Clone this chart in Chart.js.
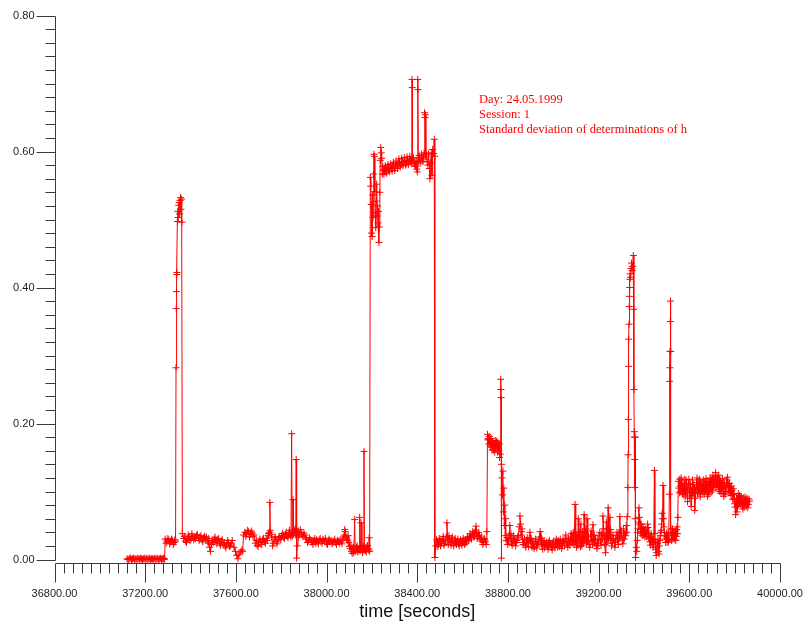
<!DOCTYPE html>
<html>
<head>
<meta charset="utf-8">
<script src="https://cdn.jsdelivr.net/npm/chart.js@4/dist/chart.umd.min.js"></script>
<style>
  html, body { margin: 0; padding: 0; background: #ffffff; }
  #wrap { width: 806px; height: 628px; position: relative; }
</style>
</head>
<body>
<div id="wrap"><canvas id="chart" width="806" height="628"></canvas></div>
<script>
// Standard deviation of h, [time (s), sigma] per epoch, grouped by observing phase
const idleZeros = [
  [37120,0.001],[37124,0.000],[37128,0.000],[37132,0.002],[37136,0.002],[37140,0.000],[37144,0.001],
  [37148,0.002],[37152,0.000],[37156,0.001],[37160,0.001],[37164,0.000],[37168,0.002],[37172,0.001],
  [37176,0.000],[37180,0.002],[37184,0.001],[37188,0.000],[37192,0.001],[37196,0.002],[37200,0.000],
  [37204,0.001],[37208,0.002],[37212,0.000],[37216,0.001],[37220,0.002],[37224,0.000],[37228,0.001],
  [37232,0.001],[37236,0.000],[37240,0.002],[37244,0.001],[37248,0.000],[37252,0.002],[37256,0.001],
  [37260,0.000],[37264,0.001],[37268,0.002],[37272,0.000],[37276,0.001],[37280,0.002],[37283,0.000],
  [37286,0.001]
];
const firstBurst = [
  [37288,0.030],[37292,0.024],[37296,0.027],[37300,0.031],[37304,0.029],[37308,0.023],[37312,0.026],
  [37316,0.030],[37320,0.028],[37324,0.022],[37328,0.025],[37331,0.029],[37334,0.027],
  [37336,0.282],[37337,0.369],[37338,0.394],[37339,0.419],[37340,0.422],[37342,0.497],[37344,0.512],
  [37346,0.503],[37348,0.521],[37350,0.525],[37352,0.508],[37354,0.528],[37356,0.532],[37358,0.515],
  [37360,0.530],[37362,0.496]
];
const quietA = [
  [37364,0.038],[37370,0.031],[37378,0.027],[37386,0.029],[37394,0.033],[37402,0.030],[37410,0.034],
  [37418,0.032],[37426,0.035],[37434,0.031],[37442,0.033],[37450,0.029],[37458,0.032],[37466,0.030],
  [37474,0.027],[37480,0.031],[37484,0.018],[37488,0.012],[37492,0.022],[37496,0.028],[37504,0.030],
  [37512,0.026],[37520,0.029],[37528,0.024],[37536,0.027],[37544,0.022],[37552,0.020],[37560,0.023],
  [37568,0.025],[37576,0.021],[37584,0.028],[37592,0.018],[37598,0.012],[37604,0.006],[37609,0.001],
  [37614,0.008],[37620,0.011],[37626,0.014],[37630,0.012],[37634,0.036],[37640,0.040],[37648,0.038],
  [37656,0.041],[37664,0.037],[37672,0.039],[37680,0.036],[37686,0.024],[37694,0.021],[37702,0.027],
  [37710,0.025],[37718,0.029],[37726,0.026],[37734,0.031],[37742,0.035],[37748,0.040],[37750,0.084],
  [37752,0.043],[37758,0.033],[37764,0.024],[37770,0.030],[37778,0.026],[37786,0.029],[37794,0.032],
  [37802,0.035],[37810,0.033],[37818,0.037],[37826,0.034],[37834,0.039],[37840,0.036],[37846,0.185],
  [37848,0.040],[37852,0.088],[37854,0.038],[37857,0.043],[37860,0.041],[37864,0.036],[37866,0.147],
  [37868,0.002],[37870,0.020],[37874,0.042],[37880,0.037],[37888,0.040],[37896,0.034],[37904,0.036],
  [37912,0.030],[37920,0.027],[37928,0.029],[37936,0.025],[37944,0.028],[37952,0.024],[37960,0.027],
  [37968,0.029],[37976,0.026],[37984,0.030],[37992,0.027],[38000,0.024],[38008,0.028],[38016,0.026],
  [38024,0.023],[38032,0.027],[38040,0.025],[38048,0.028],[38056,0.024],[38064,0.026],[38072,0.030],
  [38078,0.036],[38082,0.041],[38086,0.033],[38092,0.028],[38098,0.025],[38104,0.016],[38110,0.012],
  [38116,0.015],[38120,0.010],[38124,0.059],[38126,0.014],[38132,0.018],[38138,0.011],[38144,0.016],
  [38146,0.062],[38148,0.013],[38152,0.054],[38156,0.017],[38160,0.012],[38165,0.159],[38167,0.015],
  [38172,0.013],[38178,0.019],[38184,0.016],[38188,0.032],[38190,0.012]
];
const quietAExtra = [
  [37374,0.034],[37382,0.025],[37390,0.036],[37398,0.028],[37406,0.038],[37414,0.029],[37422,0.031],
  [37430,0.037],[37438,0.028],[37446,0.035],[37454,0.026],[37462,0.034],[37470,0.033],[37478,0.024],
  [37500,0.025],[37508,0.033],[37516,0.023],[37524,0.031],[37532,0.021],[37540,0.029],[37548,0.025],
  [37556,0.017],[37564,0.028],[37572,0.019],[37580,0.024],[37644,0.034],[37652,0.043],[37660,0.033],
  [37668,0.042],[37676,0.034],[37690,0.028],[37698,0.019],[37706,0.030],[37714,0.022],[37722,0.031],
  [37730,0.024],[37738,0.028],[37744,0.038],[37756,0.037],[37762,0.020],[37774,0.033],[37782,0.023],
  [37790,0.034],[37798,0.029],[37806,0.038],[37814,0.031],[37822,0.040],[37830,0.032],[37836,0.043],
  [37843,0.033],[37850,0.035],[37862,0.045],[37877,0.033],[37884,0.044],[37892,0.036],[37900,0.039],
  [37908,0.032],[37916,0.025],[37924,0.032],[37932,0.028],[37940,0.022],[37948,0.031],[37956,0.029],
  [37964,0.023],[37972,0.031],[37980,0.024],[37988,0.028],[37996,0.031],[38004,0.022],[38012,0.030],
  [38020,0.028],[38028,0.025],[38036,0.030],[38044,0.022],[38052,0.027],[38060,0.029],[38068,0.023],
  [38076,0.033],[38080,0.044],[38089,0.030],[38095,0.035],[38101,0.019],[38107,0.021],[38113,0.009],
  [38118,0.018],[38129,0.012],[38135,0.020],[38141,0.014],[38150,0.019],[38158,0.010],[38162,0.020],
  [38170,0.017],[38175,0.011],[38181,0.021],[38186,0.014]
];
const plateau = [
  [38193,0.562],[38195,0.549],[38197,0.522],[38199,0.480],[38201,0.475],[38203,0.536],[38205,0.503],
  [38207,0.567],[38209,0.596],[38211,0.593],[38213,0.541],[38215,0.510],[38217,0.488],[38219,0.527],
  [38221,0.552],[38223,0.505],[38225,0.520],[38227,0.495],[38229,0.512],[38231,0.466],[38233,0.489],
  [38235,0.540],[38237,0.587],[38239,0.606],[38241,0.598],[38243,0.590],[38246,0.567],[38250,0.572],
  [38256,0.574],[38262,0.570],[38268,0.576],[38274,0.573],[38280,0.577],[38286,0.575],[38292,0.579],
  [38298,0.576],[38304,0.580],[38310,0.582],[38316,0.579],[38322,0.584],[38328,0.581],[38334,0.585],
  [38340,0.583],[38346,0.586],[38352,0.582],[38358,0.587],[38364,0.585],[38370,0.588],[38376,0.586],
  [38377,0.706],[38378,0.694],[38380,0.589],[38386,0.584],[38392,0.578],[38398,0.574],[38402,0.706],
  [38403,0.691],[38405,0.586],[38410,0.590],[38416,0.587],[38422,0.592],[38428,0.589],[38432,0.657],
  [38434,0.650],[38436,0.654],[38438,0.592],[38444,0.585],[38450,0.597],[38454,0.575],[38456,0.560],
  [38458,0.583],[38462,0.598],[38465,0.565],[38468,0.603],[38472,0.597],[38475,0.618],[38477,0.593]
];
const plateauExtra = [
  [38248,0.578],[38253,0.566],[38259,0.579],[38265,0.568],[38271,0.581],[38277,0.570],[38283,0.582],
  [38289,0.571],[38295,0.584],[38301,0.572],[38307,0.586],[38313,0.575],[38319,0.589],[38325,0.577],
  [38331,0.590],[38337,0.579],[38343,0.591],[38349,0.580],[38355,0.592],[38361,0.581],[38367,0.593],
  [38373,0.582],[38383,0.591],[38389,0.580],[38395,0.586],[38400,0.570],[38408,0.594],[38413,0.583],
  [38419,0.596],[38425,0.585],[38430,0.598],[38441,0.595],[38447,0.580]
];
const quietB = [
  [38478,0.003],[38482,0.020],[38488,0.026],[38494,0.022],[38500,0.028],[38506,0.024],[38512,0.030],
  [38518,0.021],[38524,0.027],[38528,0.033],[38531,0.054],[38534,0.029],[38540,0.035],[38546,0.026],
  [38552,0.031],[38558,0.024],[38564,0.028],[38570,0.025],[38576,0.027],[38582,0.023],[38588,0.026],
  [38594,0.024],[38600,0.028],[38606,0.025],[38612,0.029],[38618,0.027],[38624,0.031],[38630,0.034],
  [38636,0.032],[38642,0.037],[38648,0.035],[38654,0.040],[38659,0.049],[38662,0.038],[38668,0.034],
  [38674,0.036],[38680,0.031],[38686,0.027],[38692,0.025],[38698,0.029],[38704,0.022],[38707,0.041],
  [38710,0.184],[38713,0.178],[38716,0.170],[38720,0.176],[38724,0.165],[38728,0.172],[38732,0.168],
  [38736,0.161],[38740,0.167],[38744,0.175],[38748,0.169],[38752,0.164],[38756,0.172],[38760,0.160],
  [38763,0.150],[38766,0.155],[38768,0.265],[38769,0.250],[38770,0.238],[38771,0.002],[38772,0.140],
  [38774,0.120],[38776,0.095],[38778,0.130],[38780,0.070],[38782,0.105],[38784,0.050],[38786,0.080],
  [38788,0.035],[38790,0.060],[38792,0.028]
];
const quietBExtra = [
  [38485,0.029],[38491,0.019],[38497,0.031],[38503,0.020],[38509,0.027],[38515,0.034],[38521,0.024],
  [38537,0.022],[38543,0.030],[38549,0.021],[38555,0.033],[38561,0.020],[38567,0.031],[38573,0.022],
  [38579,0.030],[38585,0.020],[38591,0.029],[38597,0.021],[38603,0.031],[38609,0.022],[38615,0.024],
  [38621,0.033],[38627,0.028],[38633,0.038],[38639,0.030],[38645,0.041],[38651,0.033],[38657,0.043],
  [38665,0.031],[38671,0.040],[38677,0.029],[38683,0.033],[38689,0.022],[38695,0.031],[38701,0.026],
  [38711,0.176],[38718,0.181],[38722,0.168],[38726,0.178],[38730,0.161],[38734,0.173],[38738,0.170],
  [38742,0.158],[38746,0.164],[38750,0.174],[38754,0.158],[38758,0.166],[38762,0.170]
];
const quietC = [
  [38796,0.032],[38802,0.027],[38808,0.050],[38810,0.030],[38816,0.024],[38822,0.031],[38828,0.026],
  [38834,0.020],[38840,0.028],[38846,0.035],[38850,0.048],[38853,0.064],[38856,0.052],[38860,0.041],
  [38864,0.030],[38870,0.025],[38876,0.021],[38882,0.028],[38888,0.024],[38894,0.031],[38897,0.040],
  [38900,0.026],[38906,0.018],[38912,0.023],[38918,0.019],[38924,0.026],[38930,0.022],[38936,0.029],
  [38942,0.041],[38945,0.027],[38950,0.020],[38956,0.024],[38962,0.017],[38968,0.022],[38974,0.019],
  [38980,0.025],[38986,0.021],[38992,0.018],[38998,0.024],[39004,0.020],[39010,0.026],[39016,0.022],
  [39022,0.028],[39028,0.019],[39034,0.024],[39040,0.021],[39046,0.027],[39052,0.030],[39058,0.023],
  [39064,0.018],[39070,0.026],[39076,0.033],[39082,0.028],[39088,0.040],[39092,0.022],[39096,0.081],
  [39098,0.035],[39102,0.018],[39106,0.027],[39110,0.060],[39113,0.031],[39118,0.024],[39122,0.052],
  [39126,0.020],[39130,0.033],[39136,0.066],[39139,0.028],[39144,0.045],[39149,0.060],[39152,0.026],
  [39158,0.022],[39164,0.036],[39170,0.028],[39175,0.051],[39178,0.030],[39184,0.024],[39190,0.020],
  [39196,0.029],[39202,0.035],[39208,0.027],[39214,0.038],[39219,0.064],[39222,0.045],[39226,0.030],
  [39230,0.010],[39234,0.055],[39238,0.034],[39242,0.076],[39246,0.040],[39250,0.062],[39254,0.028],
  [39260,0.024],[39266,0.031],[39272,0.018],[39278,0.035],[39284,0.027],[39290,0.040],[39294,0.063],
  [39298,0.033],[39304,0.029],[39310,0.045],[39316,0.038],[39322,0.050],[39326,0.063]
];
const quietCExtra = [
  [38799,0.022],[38805,0.036],[38813,0.038],[38819,0.021],[38825,0.035],[38831,0.029],[38837,0.025],
  [38843,0.033],[38858,0.036],[38862,0.045],[38867,0.022],[38873,0.030],[38879,0.018],[38885,0.032],
  [38891,0.019],[38903,0.031],[38909,0.027],[38915,0.016],[38921,0.030],[38927,0.017],[38933,0.024],
  [38939,0.033],[38948,0.031],[38953,0.015],[38959,0.028],[38965,0.021],[38971,0.026],[38977,0.015],
  [38983,0.028],[38989,0.023],[38995,0.014],[39001,0.027],[39007,0.017],[39013,0.030],[39019,0.018],
  [39025,0.024],[39031,0.030],[39037,0.016],[39043,0.029],[39049,0.020],[39055,0.036],[39061,0.026],
  [39067,0.031],[39073,0.021],[39079,0.038],[39085,0.024],[39090,0.031],[39100,0.026],[39104,0.037],
  [39108,0.021],[39116,0.040],[39120,0.019],[39124,0.030],[39128,0.041],[39133,0.025],[39141,0.038],
  [39147,0.023],[39155,0.034],[39161,0.018],[39167,0.042],[39173,0.022],[39181,0.036],[39187,0.029],
  [39193,0.016],[39199,0.024],[39205,0.040],[39211,0.021],[39217,0.030],[39224,0.036],[39228,0.022],
  [39232,0.036],[39236,0.024],[39240,0.045],[39244,0.030],[39248,0.035],[39252,0.044],[39257,0.020],
  [39263,0.036],[39269,0.025],[39275,0.029],[39281,0.040],[39287,0.022],[39292,0.032],[39301,0.042],
  [39307,0.023],[39313,0.030],[39319,0.035],[39324,0.040]
];
const secondBurst = [
  [39329,0.106],[39330,0.154],[39331,0.206],[39332,0.284],[39333,0.324],[39334,0.346],[39335,0.372],
  [39336,0.387],[39337,0.400],[39338,0.412],[39339,0.420],[39341,0.415],[39343,0.428],[39345,0.436],
  [39348,0.425],[39350,0.431],[39353,0.447],[39355,0.368],[39356,0.250],[39357,0.188],[39358,0.180],
  [39359,0.147],[39360,0.106],[39361,0.180],[39362,0.060],[39363,0.003],[39366,0.018],[39370,0.028],
  [39374,0.045],[39378,0.076],[39382,0.052],[39386,0.038],[39390,0.046],[39394,0.041],[39398,0.036],
  [39402,0.043],[39406,0.038],[39410,0.034],[39414,0.040],[39418,0.047],[39422,0.031],[39426,0.026],
  [39430,0.033],[39434,0.028],[39438,0.022],[39442,0.030],[39446,0.131],[39448,0.038],[39452,0.015],
  [39456,0.010],[39460,0.024],[39464,0.012],[39468,0.020],[39472,0.035],[39476,0.043],[39480,0.068],
  [39484,0.109],[39486,0.060],[39490,0.040],[39494,0.030],[39498,0.033],[39502,0.025],[39506,0.038],
  [39510,0.030],[39512,0.096],[39513,0.262],[39514,0.282],[39515,0.306],[39516,0.350],[39517,0.380],
  [39518,0.306],[39519,0.045],[39522,0.028],[39526,0.045],[39530,0.036],[39534,0.030],[39538,0.042],
  [39542,0.034],[39546,0.048],[39550,0.062]
];
const secondBurstExtra = [
  [39368,0.012],[39372,0.040],[39376,0.055],[39380,0.062],[39384,0.044],[39388,0.052],[39392,0.035],
  [39396,0.048],[39400,0.039],[39404,0.033],[39408,0.045],[39412,0.036],[39416,0.052],[39420,0.038],
  [39424,0.030],[39428,0.021],[39432,0.038],[39436,0.031],[39440,0.018],[39444,0.026],[39450,0.025],
  [39454,0.006],[39458,0.018],[39462,0.030],[39466,0.008],[39470,0.028],[39474,0.040],[39478,0.052],
  [39482,0.060],[39488,0.048],[39492,0.035],[39496,0.025],[39500,0.039],[39504,0.030],[39508,0.026],
  [39520,0.035],[39524,0.040],[39528,0.030],[39532,0.041],[39536,0.036],[39540,0.028],[39544,0.044],
  [39548,0.038]
];
const finalLevel = [
  [39552,0.115],[39556,0.098],[39560,0.108],[39564,0.120],[39568,0.104],[39572,0.112],[39576,0.095],
  [39580,0.118],[39584,0.101],[39588,0.109],[39592,0.085],[39596,0.112],[39600,0.099],[39604,0.106],
  [39608,0.078],[39612,0.094],[39616,0.103],[39620,0.110],[39624,0.072],[39628,0.100],[39632,0.113],
  [39636,0.097],[39640,0.108],[39644,0.118],[39648,0.092],[39652,0.106],[39656,0.112],[39660,0.098],
  [39664,0.104],[39668,0.115],[39672,0.101],[39676,0.109],[39680,0.093],[39684,0.114],[39688,0.105],
  [39692,0.120],[39696,0.099],[39700,0.111],[39704,0.124],[39708,0.107],[39712,0.118],[39716,0.128],
  [39720,0.112],[39724,0.121],[39728,0.103],[39732,0.116],[39736,0.109],[39740,0.097],[39744,0.112],
  [39748,0.104],[39752,0.093],[39756,0.108],[39760,0.100],[39764,0.113],[39768,0.121],[39772,0.105],
  [39776,0.098],[39780,0.106],[39784,0.094],[39788,0.101],[39792,0.088],[39796,0.096],[39800,0.082],
  [39804,0.066],[39808,0.090],[39812,0.078],[39816,0.097],[39820,0.086],[39824,0.092],[39828,0.080],
  [39832,0.088],[39836,0.074],[39840,0.091],[39844,0.083],[39848,0.087],[39852,0.079],[39856,0.085],
  [39860,0.081],[39866,0.086]
];
const finalLevelExtra = [
  [39554,0.105],[39558,0.118],[39562,0.100],[39566,0.112],[39570,0.097],[39574,0.106],[39578,0.102],
  [39582,0.092],[39586,0.117],[39590,0.098],[39594,0.105],[39598,0.118],[39602,0.090],[39606,0.111],
  [39610,0.101],[39614,0.117],[39618,0.097],[39622,0.104],[39626,0.090],[39630,0.106],[39634,0.120],
  [39638,0.103],[39642,0.098],[39646,0.110],[39650,0.115],[39654,0.100],[39658,0.107],[39662,0.117],
  [39666,0.096],[39670,0.109],[39674,0.119],[39678,0.100],[39682,0.110],[39686,0.096],[39690,0.113],
  [39694,0.106],[39698,0.117],[39702,0.101],[39706,0.115],[39710,0.109],[39714,0.122],[39718,0.106],
  [39722,0.118],[39726,0.110],[39730,0.124],[39734,0.100],[39738,0.114],[39742,0.104],[39746,0.119],
  [39750,0.097],[39754,0.113],[39758,0.096],[39762,0.107],[39766,0.117],[39770,0.110],[39774,0.102],
  [39778,0.112],[39782,0.099],[39786,0.108],[39790,0.095],[39794,0.104],[39798,0.090],[39802,0.077],
  [39806,0.085],[39810,0.070],[39814,0.088],[39818,0.080],[39822,0.094],[39826,0.084],[39830,0.091],
  [39834,0.082],[39838,0.086],[39842,0.077],[39846,0.092],[39850,0.081],[39854,0.090],[39858,0.076],
  [39863,0.089]
];

// Axis ranges and tick labels
const xRange = [36800, 40000];
const yRange = [0, 0.80];
const xMajorTicks = [36800, 37200, 37600, 38000, 38400, 38800, 39200, 39600, 40000];
const yMajorTicks = [0.00, 0.20, 0.40, 0.60, 0.80];
const xMinorStep = 40;
const yMinorStep = 0.02;
const xTitle = 'time [seconds]';
const noteLines = ['Day: 24.05.1999', 'Session: 1', 'Standard deviation of determinations of h'];

// all epochs in time order
const series = [].concat(
    idleZeros, firstBurst, quietA, quietAExtra, plateau, plateauExtra,
    quietB, quietBExtra, quietC, quietCExtra, secondBurst, secondBurstExtra,
    finalLevel, finalLevelExtra)
  .sort((a, b) => a[0] - b[0])
  .map(([t, s]) => ({ x: t, y: s }));

const AXIS_COLOR = '#3a3a3a';
const LABEL_COLOR = '#1e1e1e';
const TICK_FONT = '11px "Liberation Sans", Arial, sans-serif';

// Draws both axes with major/minor tick marks, tick labels and the axis title
const axesPlugin = {
  id: 'plotAxes',
  beforeDatasetsDraw(chart) {
    const { ctx, chartArea } = chart;
    const xs = chart.scales.x, ys = chart.scales.y;
    const axisX = Math.round(xs.getPixelForValue(xRange[0])) + 0.5;
    const yTop = ys.getPixelForValue(yRange[1]);
    const yZero = ys.getPixelForValue(yRange[0]);
    const baseY = Math.round(yZero) + 3.5;
    const xRight = xs.getPixelForValue(xRange[1]);
    ctx.save();
    ctx.strokeStyle = AXIS_COLOR;
    ctx.lineWidth = 1;

    // vertical axis
    ctx.beginPath();
    ctx.moveTo(axisX, Math.round(yTop) + 0.5);
    ctx.lineTo(axisX, Math.round(yZero) + 0.5);
    ctx.stroke();
    const nY = Math.round((yRange[1] - yRange[0]) / yMinorStep);
    for (let i = 0; i <= nY; i++) {
      const v = yRange[0] + i * yMinorStep;
      const py = Math.round(ys.getPixelForValue(v)) + 0.5;
      const major = yMajorTicks.some(m => Math.abs(m - v) < 1e-9);
      ctx.beginPath();
      ctx.moveTo(axisX, py);
      ctx.lineTo(axisX - (major ? 19 : 10), py);
      ctx.stroke();
    }
    ctx.fillStyle = LABEL_COLOR;
    ctx.font = TICK_FONT;
    ctx.textAlign = 'right';
    ctx.textBaseline = 'middle';
    yMajorTicks.forEach(v => {
      ctx.fillText(v.toFixed(2), axisX - 21, ys.getPixelForValue(v) + 0.5);
    });

    // horizontal axis
    ctx.beginPath();
    ctx.moveTo(axisX, baseY);
    ctx.lineTo(Math.round(xRight) + 0.5, baseY);
    ctx.stroke();
    const nX = Math.round((xRange[1] - xRange[0]) / xMinorStep);
    for (let i = 0; i <= nX; i++) {
      const v = xRange[0] + i * xMinorStep;
      const px = Math.round(xs.getPixelForValue(v)) + 0.5;
      const major = xMajorTicks.includes(v);
      ctx.beginPath();
      ctx.moveTo(px, baseY);
      ctx.lineTo(px, baseY + (major ? 19 : 10));
      ctx.stroke();
    }
    ctx.textAlign = 'center';
    ctx.textBaseline = 'middle';
    xMajorTicks.forEach(v => {
      ctx.fillText(v.toFixed(2), xs.getPixelForValue(v), baseY + 30);
    });

    ctx.font = '18px "Liberation Sans", Arial, sans-serif';
    ctx.textBaseline = 'alphabetic';
    ctx.fillStyle = '#111111';
    ctx.fillText(xTitle, (chartArea.left + chartArea.right) / 2, 617);
    ctx.restore();
  },
  afterDatasetsDraw(chart) {
    const { ctx } = chart;
    const xs = chart.scales.x;
    ctx.save();
    ctx.fillStyle = '#ff0000';
    ctx.font = '12.5px "Liberation Serif", "Times New Roman", serif';
    ctx.textAlign = 'left';
    ctx.textBaseline = 'alphabetic';
    const left = xs.getPixelForValue(xRange[0]) + 424.5;
    noteLines.forEach((line, i) => ctx.fillText(line, left, 103 + i * 15));
    ctx.restore();
  }
};

new Chart(document.getElementById('chart'), {
  type: 'line',
  data: {
    datasets: [{
      data: series,
      borderColor: '#ff0000',
      borderWidth: 1,
      pointStyle: 'cross',
      pointRadius: 3.5,
      pointBorderWidth: 1,
      pointBorderColor: '#ff0000',
      pointBackgroundColor: '#ff0000',
      tension: 0,
      clip: false
    }]
  },
  options: {
    responsive: false,
    devicePixelRatio: 1,
    animation: false,
    events: [],
    layout: { padding: { left: 54.5, right: 26, top: 15.5, bottom: 68.5 } },
    plugins: { legend: { display: false }, tooltip: { enabled: false }, title: { display: false } },
    scales: {
      x: { type: 'linear', min: xRange[0], max: xRange[1], display: false },
      y: { type: 'linear', min: yRange[0], max: yRange[1], display: false }
    }
  },
  plugins: [axesPlugin]
});
</script>
</body>
</html>
